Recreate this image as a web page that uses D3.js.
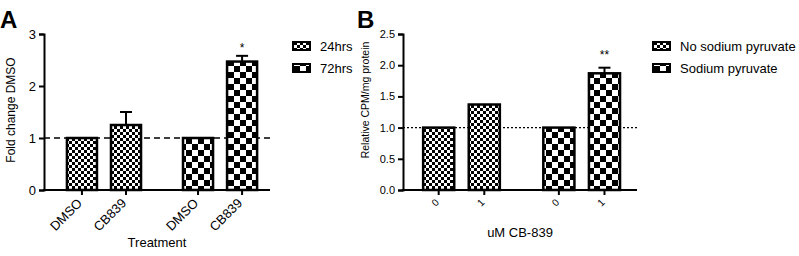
<!DOCTYPE html>
<meta charset="utf-8">
<style>
body { margin: 0; background: #fff; }
text { font-family: "Liberation Sans", Arial, sans-serif; fill: #000; }
</style>
<body>
<script src="https://d3js.org/d3.v7.min.js"></script>
<script>

// panel A data
var groupsA = ["24hrs", "72hrs"];
var catsA = ["DMSO", "CB839"];
var valuesA = [[1, 1.25], [1, 2.47]];
var errA = [[0, 0.25], [0, 0.11]];
var starsA = [["", ""], ["", "*"]];
var ticksA = [0, 1, 2, 3];

// panel B data
var groupsB = ["No sodium pyruvate", "Sodium pyruvate"];
var catsB = ["0", "1"];
var valuesB = [[1, 1.37], [1, 1.87]];
var errB = [[0, 0], [0, 0.09]];
var starsB = [["", ""], ["", "**"]];
var ticksB = [0, 0.5, 1.0, 1.5, 2.0, 2.5];

var svg = d3.select("body").append("svg")
    .attr("width", 799)
    .attr("height", 256);

// checker patterns
var defs = svg.append("defs");
function checker(id, c) {
  var p = defs.append("pattern")
      .attr("id", id)
      .attr("patternUnits", "userSpaceOnUse")
      .attr("width", c * 2).attr("height", c * 2);
  p.append("rect").attr("width", c * 2).attr("height", c * 2).attr("fill", "#fff");
  p.append("rect").attr("width", c).attr("height", c).attr("fill", "#000");
  p.append("rect").attr("x", c).attr("y", c).attr("width", c).attr("height", c).attr("fill", "#000");
}
checker("fine", 3);
checker("coarse", 6);
var fills = ["url(#fine)", "url(#coarse)"];

function panel(o) {
  var g = svg.append("g");

  var x0 = d3.scaleBand().domain(o.groups)
      .range([o.left, o.right])
      .paddingInner(0.241).paddingOuter(0.094).align(o.align);
  var x1 = d3.scaleBand().domain(o.cats)
      .range([0, x0.bandwidth()])
      .paddingInner(0.318).paddingOuter(0.159);
  var y = d3.scaleLinear().domain(o.domain).range([190, 34]);

  // reference line at 1
  g.append("line")
      .attr("x1", o.left).attr("x2", o.right)
      .attr("y1", y(1)).attr("y2", y(1))
      .attr("stroke", "#000")
      .attr("stroke-width", o.dash == "dash" ? 1.6 : 1.3)
      .attr("stroke-dasharray", o.dash == "dash" ? "6,4" : "2,2");

  o.groups.forEach(function(grp, gi) {
    o.cats.forEach(function(cat, ci) {
      var v = o.values[gi][ci], e = o.err[gi][ci];
      var bx = x0(grp) + x1(cat), bw = x1.bandwidth(), cx = bx + bw / 2;
      if (e > 0) {
        g.append("line").attr("x1", cx).attr("x2", cx)
            .attr("y1", y(v)).attr("y2", y(v + e))
            .attr("stroke", "#000").attr("stroke-width", 2);
        g.append("line").attr("x1", cx - 6).attr("x2", cx + 6)
            .attr("y1", y(v + e)).attr("y2", y(v + e))
            .attr("stroke", "#000").attr("stroke-width", 2);
      }
      g.append("rect")
          .attr("x", bx).attr("y", y(v))
          .attr("width", bw).attr("height", y(0) - y(v))
          .attr("fill", fills[gi])
          .attr("stroke", "#000").attr("stroke-width", 2.5);
      if (o.stars[gi][ci]) {
        g.append("text").attr("x", cx).attr("y", y(v + e) - o.starGap)
            .attr("text-anchor", "middle").style("font-size", "12px")
            .text(o.stars[gi][ci]);
      }
      // rotated x tick label
      g.append("line").attr("x1", cx).attr("x2", cx)
          .attr("y1", 190).attr("y2", 195)
          .attr("stroke", "#000").attr("stroke-width", 2);
      g.append("text")
          .attr("transform", "translate(" + (cx + 1) + "," + o.catY + ") rotate(-45)")
          .attr("text-anchor", "end")
          .style("font-size", o.catSize)
          .text(cat);
    });
  });

  // axes
  var ya = g.append("g")
      .attr("transform", "translate(" + o.left + ",0)")
      .call(d3.axisLeft(y).tickValues(o.ticks).tickSize(5).tickPadding(3)
        .tickFormat(o.fmt));
  ya.select(".domain").attr("stroke-width", 2);
  ya.selectAll(".tick line").attr("stroke-width", 2);
  ya.selectAll("text").style("font-size", o.tickSize)
      .style("font-family", '"Liberation Sans", Arial, sans-serif');

  g.append("line")
      .attr("x1", o.left - 1).attr("x2", o.right)
      .attr("y1", 190).attr("y2", 190)
      .attr("stroke", "#000").attr("stroke-width", 2);

  // titles
  g.append("text")
      .attr("x", (o.left + o.right) / 2).attr("y", o.xTitleY)
      .attr("text-anchor", "middle").style("font-size", "13px")
      .text(o.xTitle);
  g.append("text")
      .attr("transform", "translate(" + o.yTitleX + "," + o.yTitleCy + ") rotate(-90)")
      .attr("text-anchor", "middle").style("font-size", o.yTitleSize)
      .text(o.yTitle);
  g.append("text")
      .attr("x", o.letterX).attr("y", 28)
      .style("font-size", "24px").style("font-weight", "bold")
      .text(o.letter);

  // legend
  o.groups.forEach(function(grp, gi) {
    var ly = 42 + gi * 22;
    g.append("rect")
        .attr("x", o.legX).attr("y", ly)
        .attr("width", 17).attr("height", 8)
        .attr("fill", fills[gi])
        .attr("stroke", "#000").attr("stroke-width", 2);
    g.append("text")
        .attr("x", o.legX + 27).attr("y", ly + 9)
        .style("font-size", "13px")
        .text(grp);
  });
}

panel({
  groups: groupsA, cats: catsA, values: valuesA, err: errA, stars: starsA,
  ticks: ticksA, domain: [0, 3], fmt: d3.format("d"),
  left: 44, right: 270, align: 0.73, dash: "dash",
  tickSize: "13px", catSize: "13px", catY: 204, starGap: 4,
  xTitle: "Treatment", xTitleY: 247,
  yTitle: "Fold change DMSO", yTitleX: 15, yTitleCy: 110, yTitleSize: "12px",
  letter: "A", letterX: 0, legX: 293
});

panel({
  groups: groupsB, cats: catsB, values: valuesB, err: errB, stars: starsB,
  ticks: ticksB, domain: [0, 2.5], fmt: d3.format(".1f"),
  left: 403, right: 637, align: 0.57, dash: "dot",
  tickSize: "11px", catSize: "10px", catY: 203, starGap: 9,
  xTitle: "uM CB-839", xTitleY: 237,
  yTitle: "Relative CPM/mg protein", yTitleX: 369, yTitleCy: 100, yTitleSize: "10.5px",
  letter: "B", letterX: 357, legX: 653
});

</script>
</body>
